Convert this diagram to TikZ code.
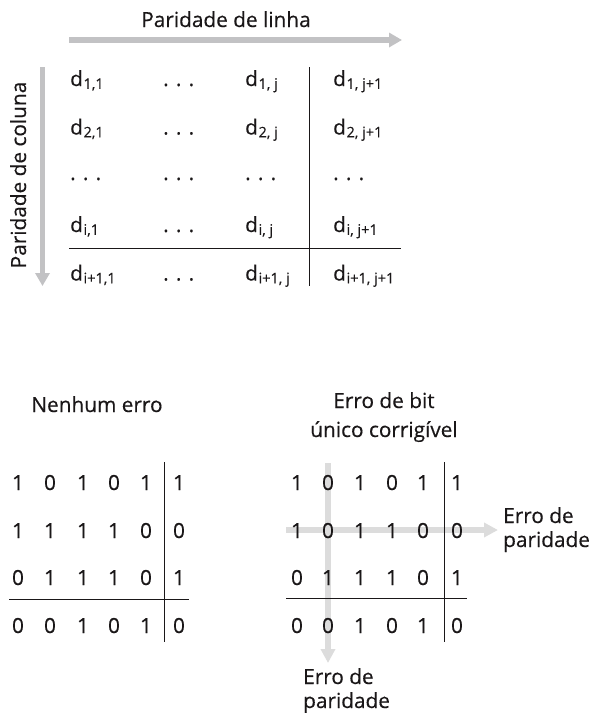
\documentclass[tikz,border=0pt]{standalone}
\usepackage{fontspec}
\setmainfont[FakeBold=0.35]{Open Sans}
\usetikzlibrary{arrows.meta}
\definecolor{ink}{HTML}{1A1718}
\definecolor{arrA}{HTML}{C2C2C4}
\definecolor{arrB}{HTML}{DCDCDC}
\newcommand\dsub[1]{d\kern0.6pt\raisebox{-2.8pt}{\fontsize{14.5}{16}\selectfont #1}}
\begin{document}
\begin{tikzpicture}[x=1pt,y=-1pt,
  txt/.style={inner sep=0pt,text=ink,font=\fontsize{20.8}{25}\selectfont},
  cell/.style={txt,anchor=base west},
  bit/.style={txt,anchor=base},
  rule/.style={draw=ink,line width=1pt},
  bigarrow/.style={draw=arrA,line width=5.5pt,-{Triangle[length=13pt,width=14pt]}},
  errarrow/.style={draw=arrB,line width=6pt,-{Triangle[length=14pt,width=14pt]}}]
\useasboundingbox (0,0) rectangle (593,713);

% ---- top diagram ----
\node[txt,anchor=base] (lrow) at (226,27) {Paridade de linha};
\coordinate (ra) at (69,40); \coordinate (rb) at (402,40);
\draw[bigarrow] (ra) -- (rb);
\node[txt,rotate=90,anchor=base] (lcol) at (26,175) {Paridade de coluna};
\coordinate (ca) at (42.5,67); \coordinate (cb) at (42.5,286);
\draw[bigarrow] (ca) -- (cb);

\node[cell] (t11) at (70,86) {\dsub{1,1}};
\node[cell] (t12) at (163,86) {. . .};
\node[cell] (t13) at (245,86) {\dsub{1, j}};
\node[cell] (t14) at (333,86) {\dsub{1, j+1}};
\node[cell] (t21) at (70,134.5) {\dsub{2,1}};
\node[cell] (t22) at (163,134.5) {. . .};
\node[cell] (t23) at (245,134.5) {\dsub{2, j}};
\node[cell] (t24) at (333,134.5) {\dsub{2, j+1}};
\node[cell] (t31) at (70,180) {. . .};
\node[cell] (t32) at (163,180) {. . .};
\node[cell] (t33) at (245,180) {. . .};
\node[cell] (t34) at (333,180) {. . .};
\node[cell] (t41) at (70,232) {\dsub{i,1}};
\node[cell] (t42) at (163,232) {. . .};
\node[cell] (t43) at (245,232) {\dsub{i, j}};
\node[cell] (t44) at (333,232) {\dsub{i, j+1}};
\node[cell] (t51) at (70,280.5) {\dsub{i+1,1}};
\node[cell] (t52) at (163,280.5) {. . .};
\node[cell] (t53) at (245,280.5) {\dsub{i+1, j}};
\node[cell] (t54) at (333,280.5) {\dsub{i+1, j+1}};
\coordinate (tv1) at (309,67); \coordinate (tv2) at (309,286);
\coordinate (th1) at (69,248); \coordinate (th2) at (401,248);
\draw[rule] (tv1) -- (tv2);
\draw[rule] (th1) -- (th2);

% ---- bottom left: no error ----
\node[txt,anchor=base] (hl) at (97,412) {Nenhum erro};
\foreach \r/\y/\bits in {1/490/{1,0,1,0,1,1},2/538/{1,1,1,1,0,0},3/585/{0,1,1,1,0,1},4/633/{0,0,1,0,1,0}}{
  \foreach \b [count=\c] in \bits {
    \pgfmathsetmacro\xx{{18,50,83,114,146,179}[\c-1]}
    \node[bit] (L\r\c) at (\xx,\y) {\b};
  }
}
\coordinate (lv1) at (164,462); \coordinate (lv2) at (164,642);
\coordinate (lh1) at (9,599); \coordinate (lh2) at (189,599);
\draw[rule] (lv1) -- (lv2);
\draw[rule] (lh1) -- (lh2);

% ---- bottom right: single bit error ----
\node[txt,anchor=base] (hr1) at (384,408) {Erro de bit};
\node[txt,anchor=base] (hr2) at (384,437) {único corrigível};
\coordinate (ea) at (286,530); \coordinate (eb) at (498,530);
\coordinate (ec) at (328,463); \coordinate (ed) at (328,663);
\draw[errarrow] (ea) -- (eb);
\draw[errarrow] (ec) -- (ed);
\foreach \r/\y/\bits in {1/490/{1,0,1,0,1,1},2/538/{1,0,1,1,0,0},3/585/{0,1,1,1,0,1},4/633/{0,0,1,0,1,0}}{
  \foreach \b [count=\c] in \bits {
    \pgfmathsetmacro\xx{{297,328,360,392,423,457}[\c-1]}
    \node[bit] (R\r\c) at (\xx,\y) {\b};
  }
}
\coordinate (rv1) at (444,462); \coordinate (rv2) at (444,642);
\coordinate (rh1) at (286,598); \coordinate (rh2) at (467,598);
\draw[rule] (rv1) -- (rv2);
\draw[rule] (rh1) -- (rh2);

\node[txt,anchor=base west] (pe1) at (503,523) {Erro de};
\node[txt,anchor=base west] (pe2) at (503,547) {paridade};
\node[txt,anchor=base west] (pe3) at (303,684) {Erro de};
\node[txt,anchor=base west] (pe4) at (303,708) {paridade};
\end{tikzpicture}
\end{document}
